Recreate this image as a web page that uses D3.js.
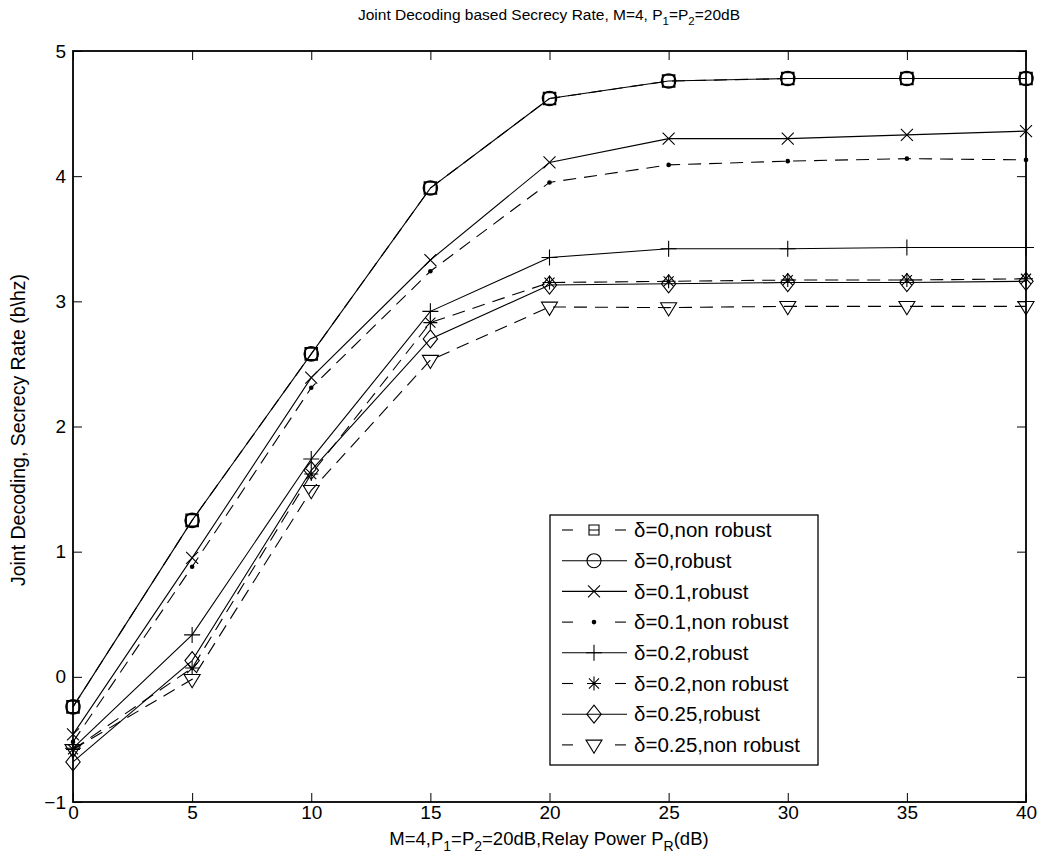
<!DOCTYPE html>
<html>
<head>
<meta charset="utf-8">
<script src="https://cdn.jsdelivr.net/npm/d3@7"></script>
<style>
  body { margin: 0; background: #fff; }
  svg { font-family: "Liberation Sans", Arial, sans-serif; }
</style>
</head>
<body>
<svg id="chart" width="1047" height="868"></svg>
<script>
// data
var xVals = [0, 5, 10, 15, 20, 25, 30, 35, 40];
var xTicks = [0, 5, 10, 15, 20, 25, 30, 35, 40];
var yTicks = [-1, 0, 1, 2, 3, 4, 5];

var d0NonRobust   = [-0.24, 1.25, 2.58, 3.905, 4.62, 4.76, 4.78, 4.78, 4.78];
var d0Robust      = [-0.24, 1.25, 2.58, 3.905, 4.62, 4.76, 4.78, 4.78, 4.78];
var d01Robust     = [-0.46, 0.95, 2.39, 3.33, 4.11, 4.30, 4.30, 4.33, 4.36];
var d01NonRobust  = [-0.52, 0.88, 2.31, 3.24, 3.95, 4.09, 4.12, 4.14, 4.13];
var d02Robust     = [-0.57, 0.335, 1.74, 2.92, 3.35, 3.42, 3.42, 3.43, 3.43];
var d02NonRobust  = [-0.58, 0.07, 1.62, 2.83, 3.15, 3.16, 3.17, 3.17, 3.18];
var d025Robust    = [-0.68, 0.13, 1.65, 2.70, 3.13, 3.14, 3.15, 3.15, 3.16];
var d025NonRobust = [-0.58, -0.02, 1.49, 2.53, 2.955, 2.95, 2.96, 2.96, 2.96];

var seriesNames = ["δ=0,non robust", "δ=0,robust", "δ=0.1,robust", "δ=0.1,non robust",
                   "δ=0.2,robust", "δ=0.2,non robust", "δ=0.25,robust", "δ=0.25,non robust"];
var seriesValues = [d0NonRobust, d0Robust, d01Robust, d01NonRobust,
                    d02Robust, d02NonRobust, d025Robust, d025NonRobust];
var seriesDashed = [true, false, false, true, false, true, false, true];
var seriesMarker = ["square", "circle", "times", "dot", "plus", "star", "diamond", "tri"];

var margin = {left: 73, top: 51, right: 21, bottom: 66};
var svg = d3.select("#chart");
var W = 1047 - margin.left - margin.right;
var H = 868 - margin.top - margin.bottom;

var xScale = d3.scaleLinear().domain([0, 40]).range([0, W]);
var yScale = d3.scaleLinear().domain([-1, 5]).range([H, 0]);

var g = svg.append("g").attr("transform", "translate(" + margin.left + "," + margin.top + ")");

// inward ticks on all four sides, MATLAB style
var tickLen = 9;
g.append("g").call(d3.axisBottom(xScale).tickValues(xTicks).tickSize(-tickLen).tickPadding(4).tickFormat(d3.format("d")))
    .attr("transform", "translate(0," + H + ")");
g.append("g").call(d3.axisTop(xScale).tickValues(xTicks).tickSize(-tickLen).tickFormat(""));
g.append("g").call(d3.axisLeft(yScale).tickValues(yTicks).tickSize(-tickLen).tickPadding(7)
    .tickFormat(function (d) { return d < 0 ? "\u2212" + Math.abs(d) : d; }));
g.append("g").call(d3.axisRight(yScale).tickValues(yTicks).tickSize(-tickLen).tickFormat(""))
    .attr("transform", "translate(" + W + ",0)");

g.selectAll(".domain").remove();
g.selectAll(".tick line").attr("stroke", "#000").attr("stroke-width", 1);
g.selectAll(".tick text").attr("fill", "#000").style("font-size", "19px");

g.append("rect").attr("x", 0).attr("y", 0).attr("width", W).attr("height", H)
    .attr("fill", "none").attr("stroke", "#000").attr("stroke-width", 1.8);

function markerPath(type, small) {
    var s;
    switch (type) {
        case "times": s = 6; return "M" + -s + "," + -s + "L" + s + "," + s + "M" + s + "," + -s + "L" + -s + "," + s;
        case "plus": s = 8; return "M" + -s + ",0H" + s + "M0," + -s + "V" + s;
        case "star": s = 7; var k = s * 0.72;
            return "M" + -s + ",0H" + s + "M0," + -s + "V" + s +
                "M" + -k + "," + -k + "L" + k + "," + k + "M" + k + "," + -k + "L" + -k + "," + k;
        case "diamond": s = 9; return "M0," + -s + "L" + (s * 0.8) + ",0L0," + s + "L" + (-s * 0.8) + ",0Z";
        case "tri": s = 8; return "M" + -s + "," + (-s * 0.6) + "L" + s + "," + (-s * 0.6) + "L0," + (s * 1.05) + "Z";
        case "square": s = small ? 5 : 6;
            var p = "M" + -s + "," + -s + "H" + s + "V" + s + "H" + -s + "Z";
            return small ? p + "M" + -s + ",0H" + s : p;
    }
    return "";
}

function drawMarker(sel, type, small) {
    if (type === "circle") {
        sel.append("circle").attr("r", 7).attr("fill", "none").attr("stroke", "#000").attr("stroke-width", small ? 1.1 : 1.6);
    } else if (type === "dot") {
        sel.append("circle").attr("r", 2.3).attr("fill", "#000");
    } else {
        sel.append("path").attr("d", markerPath(type, small)).attr("fill", "none").attr("stroke", "#000")
            .attr("stroke-width", (type === "square" && !small) ? 1.6 : 1.1);
    }
}

var line = d3.line()
    .x(function (d) { return xScale(d.x); })
    .y(function (d) { return yScale(d.y); });

seriesValues.forEach(function (vals, i) {
    var pts = vals.map(function (v, j) { return {x: xVals[j], y: v}; });
    g.append("path")
        .datum(pts)
        .attr("fill", "none")
        .attr("stroke", "#000")
        .attr("stroke-width", 1.1)
        .attr("stroke-dasharray", seriesDashed[i] ? "13,8" : null)
        .attr("d", line);
    pts.forEach(function (p) {
        var m = g.append("g").attr("transform", "translate(" + xScale(p.x) + "," + yScale(p.y) + ")");
        drawMarker(m, seriesMarker[i], false);
    });
});

// legend
var legX = 550 - margin.left, legY = 515 - margin.top, legW = 268, legH = 250, rowH = 30.7;
var leg = g.append("g").attr("transform", "translate(" + legX + "," + legY + ")");
leg.append("rect").attr("width", legW).attr("height", legH).attr("fill", "#fff")
    .attr("stroke", "#000").attr("stroke-width", 1.3);
seriesNames.forEach(function (name, i) {
    var cy = 15 + i * rowH;
    var row = leg.append("g").attr("transform", "translate(0," + cy + ")");
    if (seriesDashed[i]) {
        row.append("line").attr("x1", 12).attr("x2", 23).attr("y1", 0).attr("y2", 0)
            .attr("stroke", "#000").attr("stroke-width", 1.1);
        row.append("line").attr("x1", 65).attr("x2", 76).attr("y1", 0).attr("y2", 0)
            .attr("stroke", "#000").attr("stroke-width", 1.1);
    } else {
        row.append("line").attr("x1", 12).attr("x2", 77).attr("y1", 0).attr("y2", 0)
            .attr("stroke", "#000").attr("stroke-width", 1.1);
    }
    var m = row.append("g").attr("transform", "translate(44,0)");
    drawMarker(m, seriesMarker[i], true);
    row.append("text").attr("x", 84).attr("y", 0).attr("dy", "0.35em")
        .style("font-size", "20.5px").text(name);
});

// titles
var title = svg.append("text").attr("x", 549).attr("y", 20).attr("text-anchor", "middle")
    .style("font-size", "15.5px");
title.append("tspan").text("Joint Decoding based Secrecy Rate, M=4, P");
title.append("tspan").attr("dy", 5).style("font-size", "11.5px").text("1");
title.append("tspan").attr("dy", -5).text("=P");
title.append("tspan").attr("dy", 5).style("font-size", "11.5px").text("2");
title.append("tspan").attr("dy", -5).text("=20dB");

var xlab = svg.append("text").attr("x", 549).attr("y", 845).attr("text-anchor", "middle")
    .style("font-size", "18.5px");
xlab.append("tspan").text("M=4,P");
xlab.append("tspan").attr("dy", 6).style("font-size", "14px").text("1");
xlab.append("tspan").attr("dy", -6).text("=P");
xlab.append("tspan").attr("dy", 6).style("font-size", "14px").text("2");
xlab.append("tspan").attr("dy", -6).text("=20dB,Relay Power P");
xlab.append("tspan").attr("dy", 6).style("font-size", "14px").text("R");
xlab.append("tspan").attr("dy", -6).text("(dB)");

svg.append("text").attr("transform", "translate(25,430) rotate(-90)")
    .attr("text-anchor", "middle").style("font-size", "19.5px")
    .text("Joint Decoding, Secrecy Rate (b\\hz)");
</script>
</body>
</html>
